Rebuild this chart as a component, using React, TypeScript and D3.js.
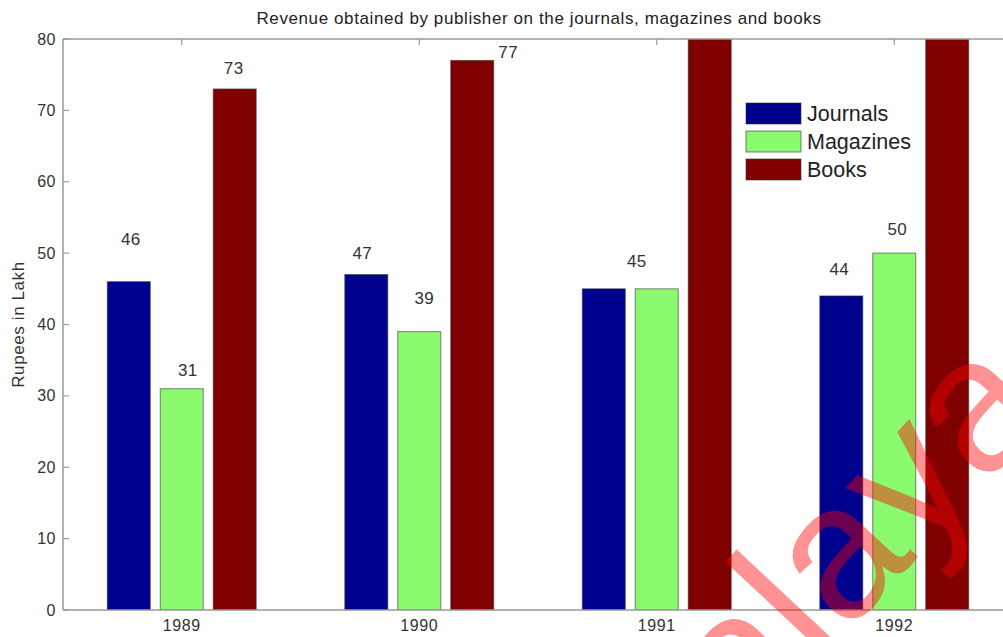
import React from "react";
import * as d3 from "d3";

const TITLE = "Revenue obtained by publisher on the journals, magazines and books";
const Y_LABEL = "Rupees in Lakh";
const categories = ["1989", "1990", "1991", "1992"];
const seriesNames = ["Journals", "Magazines", "Books"];
const journals = [46, 47, 45, 44];
const magazines = [31, 39, 45, 50];
const books = [73, 77, 85, 88];
const yTicks = [0, 10, 20, 30, 40, 50, 60, 70, 80];
const valueLabels: (string | null)[][] = [
  ["46", "47", "45", "44"],
  ["31", "39", null, "50"],
  ["73", "77", null, null],
];

// layout-only offsets for the value labels (px right, px above bar top)
const labelOffsets: ([number, number] | null)[][] = [
  [[2, 43], [-4, 21.5], [33, 28], [-2, 27]],
  [[6, 19], [5, 33.6], null, [3, 24]],
  [[-1, 21], [36, 8], null, null],
];

const colors = ["#00008f", "#8cfa6e", "#800000"];
const W = 1003;
const H = 637;
const FONT = "'Liberation Sans', Arial, Helvetica, sans-serif";

export default function App() {
  const series = [journals, magazines, books];
  const x = d3.scaleLinear().domain([0.5, 4.5]).range([63, 1013]);
  const y = d3.scaleLinear().domain([0, 80]).range([610, 39]);
  const groupOffset = 0.223;
  const barW = 0.181;
  const unit = x(1) - x(0);
  const left = x(0.5);
  const top = y(80);
  const bottom = y(0);
  const right = x(4.5);

  return (
    <svg
      width={W}
      height={H}
      style={{ position: "absolute", left: 0, top: 0, background: "#fff" }}
      fontFamily={FONT}
    >
      <defs>
        <clipPath id="plot">
          <rect x={left} y={top} width={right - left} height={bottom - top} />
        </clipPath>
      </defs>
      <rect x={0} y={0} width={W} height={H} fill="#fff" />
      <text x={539} y={24} textAnchor="middle" fontSize={17} letterSpacing={0.6} fill="#222">
        {TITLE}
      </text>

      <g clipPath="url(#plot)">
        {series.map((vals, si) =>
          vals.map((v, ci) => {
            const cx = x(ci + 1 + (si - 1) * groupOffset);
            return (
              <rect
                key={`${si}-${ci}`}
                x={cx - (barW * unit) / 2}
                y={y(v)}
                width={barW * unit}
                height={y(0) - y(v)}
                fill={colors[si]}
                stroke="#333"
                strokeOpacity={0.6}
                strokeWidth={1}
              />
            );
          })
        )}
      </g>

      {/* axes */}
      <line x1={left} y1={top} x2={left} y2={bottom} stroke="#999" strokeWidth={1.5} />
      <line x1={left} y1={bottom} x2={right} y2={bottom} stroke="#999" strokeWidth={1.5} />
      <line x1={left} y1={top} x2={right} y2={top} stroke="#999" strokeWidth={1.5} />
      {yTicks.map((t) => (
        <g key={t}>
          <line x1={left} x2={left + 6} y1={y(t)} y2={y(t)} stroke="#999" strokeWidth={1.2} />
          <text
            x={left - 7}
            y={y(t)}
            dy="0.35em"
            textAnchor="end"
            fontSize={16}
            letterSpacing={0.5}
            fill="#333"
          >
            {t}
          </text>
        </g>
      ))}
      {categories.map((c, i) => (
        <g key={c}>
          <line x1={x(i + 1)} x2={x(i + 1)} y1={top} y2={top + 6} stroke="#999" strokeWidth={1.2} />
          <text
            x={x(i + 1)}
            y={bottom + 21}
            textAnchor="middle"
            fontSize={16}
            letterSpacing={0.6}
            fill="#333"
          >
            {c}
          </text>
        </g>
      ))}
      <text
        transform={`translate(24,${(top + bottom) / 2}) rotate(-90)`}
        textAnchor="middle"
        fontSize={17}
        letterSpacing={0.6}
        fill="#333"
      >
        {Y_LABEL}
      </text>

      {/* value labels */}
      {valueLabels.map((row, si) =>
        row.map((lab, ci) => {
          const off = labelOffsets[si][ci];
          if (!lab || !off) return null;
          const cx = x(ci + 1 + (si - 1) * groupOffset) + off[0];
          const cy = y(series[si][ci]) - off[1];
          return (
            <text
              key={`l${si}-${ci}`}
              x={cx}
              y={cy}
              dy="0.35em"
              textAnchor="middle"
              fontSize={17}
              letterSpacing={0.4}
              fill="#333"
            >
              {lab}
            </text>
          );
        })
      )}

      {/* legend */}
      <g>
        <rect x={732} y={86} width={191} height={104} fill="#fff" />
        {seriesNames.map((n, i) => (
          <g key={n} transform={`translate(746,${103 + i * 28})`}>
            <rect width={55} height={21} fill={colors[i]} stroke="#333" strokeOpacity={0.6} />
            <text x={61} y={10.5} dy="0.35em" fontSize={21.5} fill="#222">
              {n}
            </text>
          </g>
        ))}
      </g>

      {/* watermark */}
      <text
        transform="translate(1055,410) rotate(-47)"
        textAnchor="end"
        fontSize={190}
        fill="#ff0000"
        opacity={0.42}
      >
        Vidyalaya
      </text>
    </svg>
  );
}
